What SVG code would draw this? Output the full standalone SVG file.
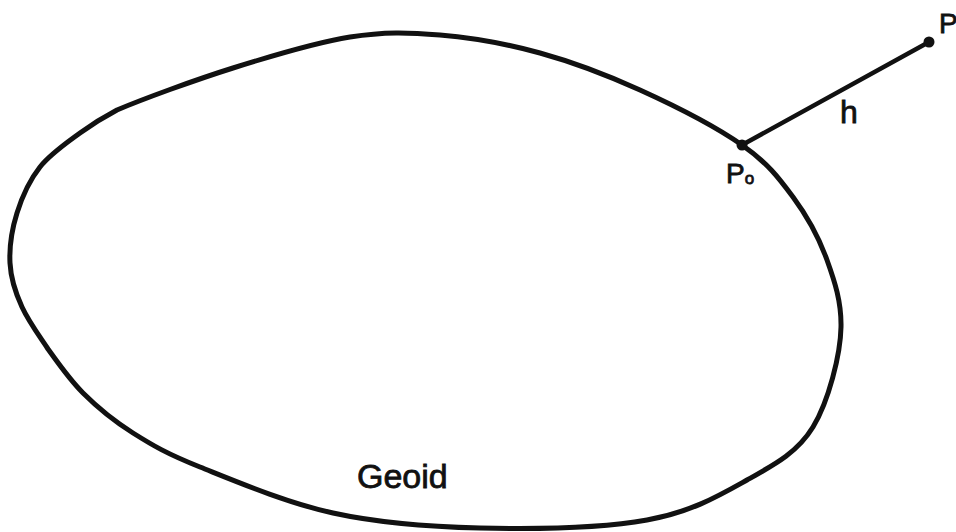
<svg xmlns="http://www.w3.org/2000/svg" width="956" height="532" viewBox="0 0 956 532">
<style>
.curve{fill:none;stroke:#111;stroke-width:5;stroke-linejoin:round;stroke-linecap:round}
.conn{fill:none;stroke:#111;stroke-width:4.5;stroke-linecap:round}
.dot{fill:#111}
.lbl{font-family:"Liberation Sans","DejaVu Sans",sans-serif;fill:#111;stroke:#111;stroke-width:0.8}
</style>
<rect width="956" height="532" fill="#fff"/>
<g id="geoid">
<path class="curve" d="M10,263 C9.2,247.3 12,229 17,213 C22,197 29.5,180.3 40,167 C50.5,153.7 67.2,142.5 80,133 C91,125 99,119.5 117,110 C142.5,99.2 194.2,80.2 233,68 C271.8,55.8 315.5,42.5 350,37 C384.5,31.5 408.3,32.3 440,35 C471.7,37.7 506.7,43.8 540,53 C573.3,62.2 606.3,74.7 640,90 C673.7,105.3 716.5,127.2 742,145 C767.5,162.8 778.8,177.8 793,197 C807.2,216.2 819.2,238.3 827,260 C834.8,281.7 841.5,302 841,327 C840.5,354.8 828.5,401.5 813,427 C797.5,452.5 774.7,464.5 747,480 C719.3,495.5 691.5,512 647,520 C602.5,528 532.3,529.2 480,528 C427.7,526.8 379.7,523.2 333,513 C286.3,502.8 233.3,480.3 200,467 C166.7,453.7 152.5,445.3 133,433 C113.5,420.7 96.8,406.8 83,393 C69.2,379.2 59,364.3 48,349 C38,334 28.7,321.5 22,307 C15.3,292.5 10.8,278.7 10,263 Z"/>
<text class="lbl" x="357" y="488" font-size="34">Geoid</text>
</g>
<g id="connectors">
<line class="conn" x1="742" y1="145" x2="929" y2="42"/>
<text class="lbl" x="840" y="123" font-size="32">h</text>
</g>
<g id="P0">
<circle class="dot" cx="742" cy="145" r="5.5"/>
<text class="lbl" x="726" y="183" font-size="28">P<tspan font-size="17" dy="1">o</tspan></text>
</g>
<g id="P">
<circle class="dot" cx="929" cy="42" r="5.5"/>
<text class="lbl" x="939" y="33" font-size="28">P</text>
</g>
</svg>
